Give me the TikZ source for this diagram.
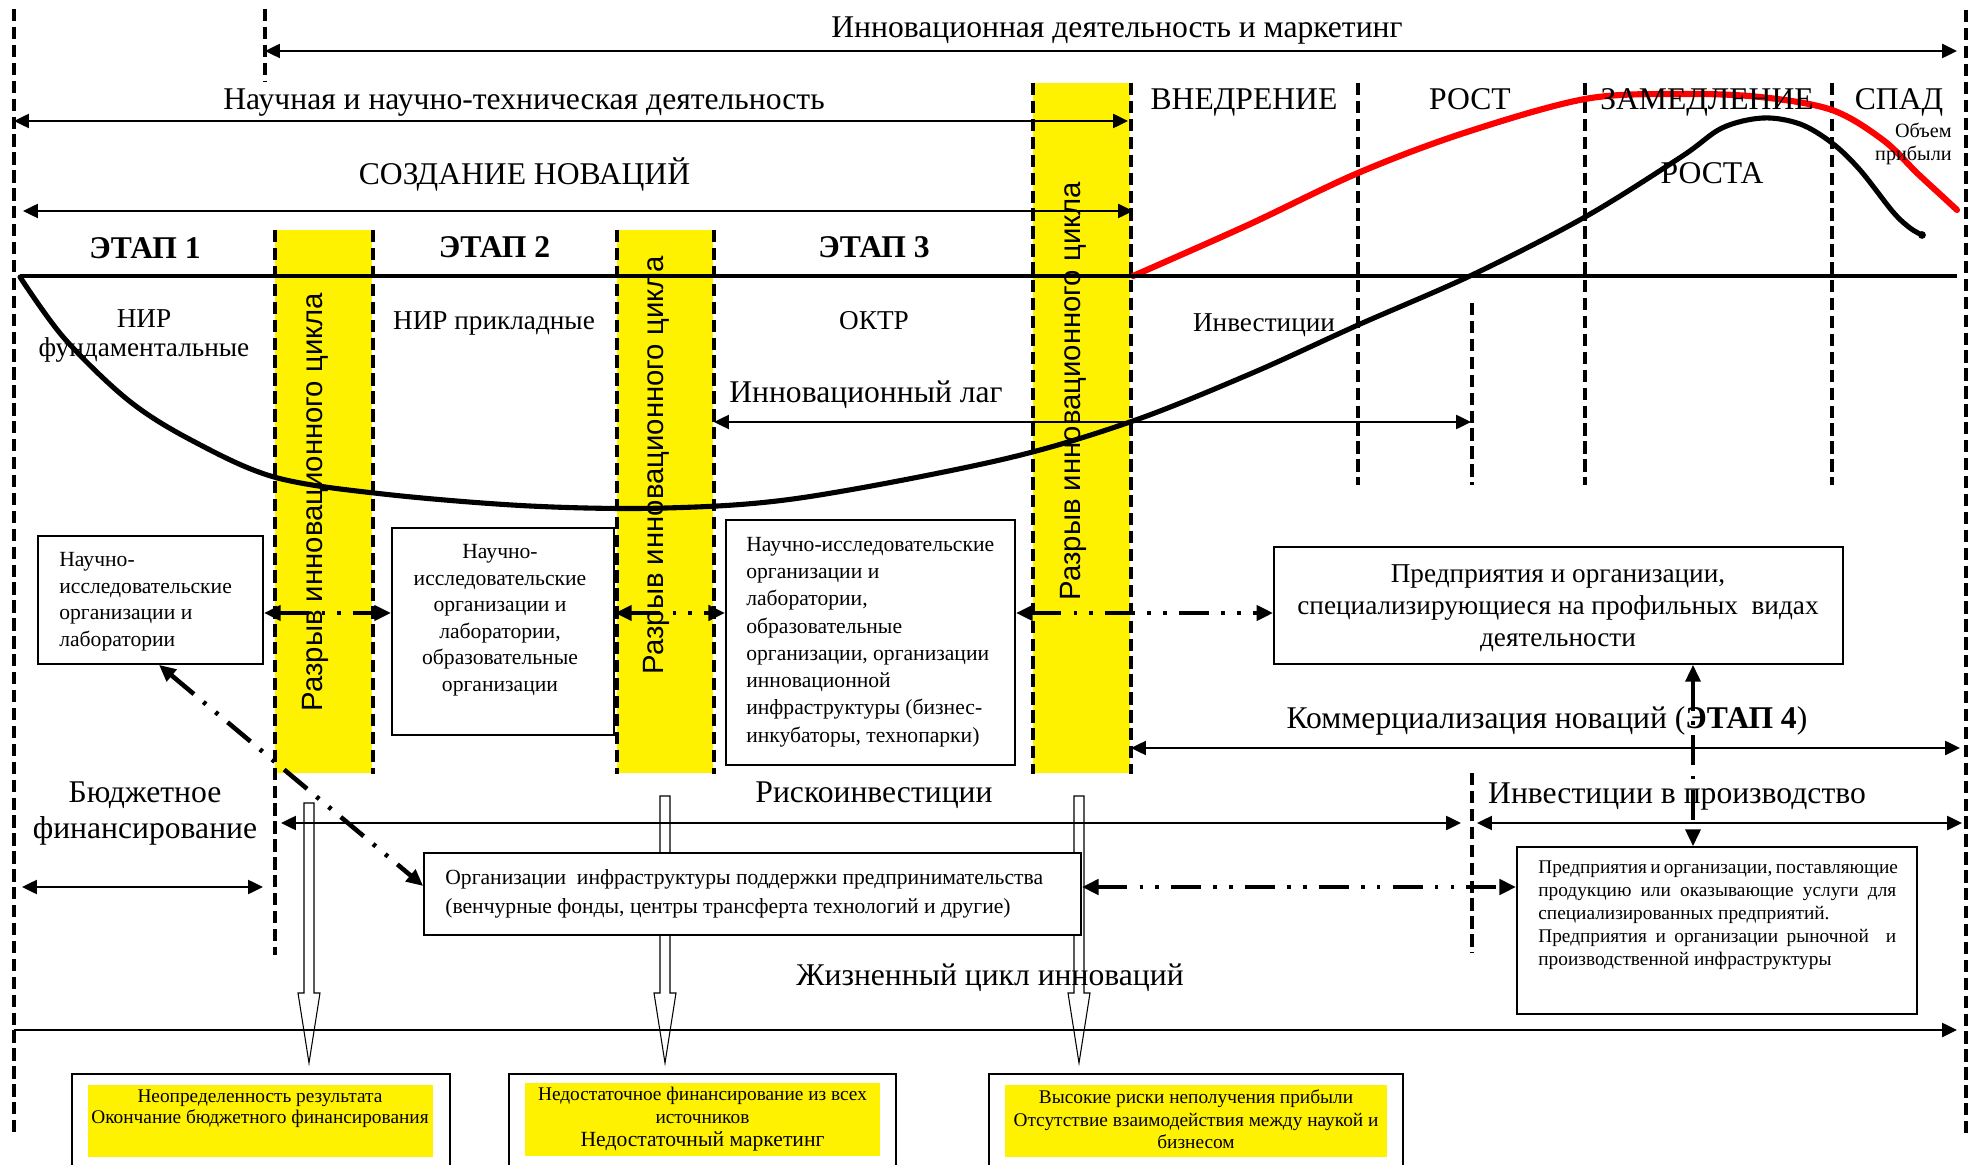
\documentclass[tikz,border=0pt]{standalone}
\usepackage{fontspec}
\setmainfont{Liberation Serif}
\newfontfamily\sansf{Liberation Sans}
\usetikzlibrary{arrows.meta}
\hyphenpenalty=10000
\exhyphenpenalty=10000
\tikzset{
  lbl/.style={font=\fontsize{18}{21}\selectfont, inner sep=0pt},
  bld/.style={font=\fontsize{18}{21}\selectfont\bfseries, inner sep=0pt},
  mid/.style={font=\fontsize{15.5}{18}\selectfont, inner sep=0pt},
  rot/.style={font=\sansf\fontsize{16.7}{20}\selectfont, inner sep=0pt, rotate=90},
  vdash/.style={line width=2.1pt, dash pattern=on 7pt off 3.2pt},
  tipA/.tip={Triangle[length=8.5pt,width=8pt]},
  tipB/.tip={Triangle[length=9.5pt,width=8.5pt]},
  arr/.style={line width=1.2pt, tipA-tipA},
  ddot/.style={line width=2.6pt, dash pattern=on 17pt off 7pt on 2pt off 7pt on 2pt off 7pt, tipB-tipB},
  ddotv/.style={line width=1.9pt, dash pattern=on 17pt off 6pt on 2pt off 6pt, tipB-tipB},
  box/.style={draw, line width=1pt, fill=white, inner sep=0pt},
  stripe/.style={fill=yellow, inner sep=0pt},
  ybox/.style={fill=yellow, inner sep=0pt},
  hollow/.style={draw, line width=0.6pt, fill=white},
  t12/.style={font=\fontsize{12.3}{15.1}\selectfont, inner sep=0pt},
  t11/.style={font=\fontsize{11}{12}\selectfont, inner sep=0pt, align=center},
}
\begin{document}
\begin{tikzpicture}[x=0.02cm,y=-0.02cm]
\useasboundingbox (0,0) rectangle (1971,1165);

% yellow stripes
\node[stripe, minimum width=1.94cm, minimum height=10.86cm, anchor=north west] (S1) at (275,230) {};
\node[stripe, minimum width=1.92cm, minimum height=10.86cm, anchor=north west] (S2) at (617,230) {};
\node[stripe, minimum width=1.94cm, minimum height=13.8cm, anchor=north west] (S3) at (1033,83) {};

% hollow arrows
\foreach \cx/\yt in {309/803,665/796,1079/796}
  \draw[hollow] (\cx-5,\yt) -- (\cx+5,\yt) -- (\cx+5,993) -- (\cx+11,993) -- (\cx,1063) -- (\cx-11,993) -- (\cx-5,993) -- cycle;

% coordinates
\coordinate (y613) at (0,613);
\coordinate (y887) at (0,887);
\coordinate (y886) at (0,886);
\coordinate (x159) at (159,0);
\coordinate (x1693) at (1693,0);
\coordinate (x955) at (0,955);

% dashed verticals
\draw[vdash] (14,9) -- (14,1138);
\draw[vdash] (1966,10) -- (1966,1138);
\draw[vdash] (265,9) -- (265,82);
\draw[vdash] (S1.north west) -- (S1.south west |- x955);
\draw[vdash] (S1.north east) -- (S1.south east);
\draw[vdash] (S2.north west) -- (S2.south west);
\draw[vdash] (S2.north east) -- (S2.south east);
\draw[vdash] (S3.north west) -- (S3.south west);
\draw[vdash] (S3.north east) -- (S3.south east);
\draw[vdash] (1358,83) -- (1358,485);
\draw[vdash] (1585,83) -- (1585,485);
\draw[vdash] (1832,83) -- (1832,485);
\draw[vdash] (1472,303) -- (1472,485);
\draw[vdash] (1472,773) -- (1472,953);

% boxes
\node[box, minimum width=4.5cm, minimum height=2.56cm] (A) at (150.5,600) {};
\node[box, minimum width=4.44cm, minimum height=4.14cm] (B) at (503,631.5) {};
\node[box, minimum width=5.78cm, minimum height=4.9cm] (C) at (870.5,642.5) {};
\node[box, minimum width=11.38cm, minimum height=2.34cm] (D) at (1558.5,605.5) {};
\node[box, minimum width=13.14cm, minimum height=1.64cm] (E) at (752.5,894) {};
\node[box, minimum width=8cm, minimum height=3.34cm] (F) at (1717,930.5) {};
\node[box, minimum width=7.56cm, minimum height=2.3cm, anchor=north west] (G1) at (71,1073) {};
\node[box, minimum width=7.74cm, minimum height=2.3cm, anchor=north west] (G2) at (508,1073) {};
\node[box, minimum width=8.28cm, minimum height=2.3cm, anchor=north west] (G3) at (988,1073) {};
\node[ybox, minimum width=6.9cm, minimum height=1.44cm, anchor=north west] (G1y) at (88,1085) {};
\node[ybox, minimum width=7.1cm, minimum height=1.46cm, anchor=north west] (G2y) at (525,1083) {};
\node[ybox, minimum width=7.64cm, minimum height=1.44cm, anchor=north west] (G3y) at (1005,1085) {};

% curves
\draw[line width=2.9pt, line cap=round] plot[smooth, tension=0.55] coordinates {(20,277) (64,338) (128,400) (191,440) (274,477) (383,494) (530,506) (666,508) (800,498) (1000,460) (1130,422) (1250,374) (1358,325) (1472,275) (1585,217) (1681,157) (1722,128) (1763,118) (1800,124) (1832,143) (1860,170) (1893,212) (1910,228) (1922,235)};
\fill (1922,235) circle (2.2pt);
\draw[red, line width=3.5pt, line cap=round] plot[smooth, tension=0.55] coordinates {(1133,276) (1248,225) (1358,173) (1464,133) (1585,99) (1681,94) (1760,97) (1832,110) (1883,140) (1917,173) (1943,197) (1957,210)};

% main axis
\coordinate (ax1) at (20,276);
\coordinate (ax2) at (1957,276);
\draw[line width=2.8pt] (ax1) -- (ax2);

% thin arrows
\coordinate (iL) at (265,51);  \coordinate (iR) at (1957,51);
\coordinate (nL) at (14,121);  \coordinate (nR) at (1128,121);
\coordinate (sL) at (23,211);  \coordinate (sR) at (1133,211);
\coordinate (lL) at (714,422); \coordinate (lR) at (1471,422);
\coordinate (kL) at (1131,748); \coordinate (kR) at (1960,748);
\coordinate (bL) at (22,887);  \coordinate (bR) at (263,887);
\coordinate (rL) at (281,823); \coordinate (rR) at (1461,823);
\coordinate (pL) at (1477,823); \coordinate (pR) at (1962,823);
\coordinate (zL) at (14,1030); \coordinate (zR) at (1957,1030);
\draw[arr] (iL) -- (iR);
\draw[arr] (nL) -- (nR);
\draw[arr] (sL) -- (sR);
\draw[arr] (lL) -- (lR);
\draw[arr] (kL) -- (kR);
\draw[arr] (bL) -- (bR);
\draw[arr] (rL) -- (rR);
\draw[arr] (pL) -- (pR);
\draw[line width=1.2pt, -tipA] (zL) -- (zR);

% dash-dot connectors
\draw[ddot] (A.east |- y613) -- (B.west |- y613);
\draw[ddot] (B.east |- y613) -- (C.west |- y613);
\draw[ddot] (C.east |- y613) -- (D.west |- y613);
\draw[ddot] (E.east |- y887) -- (F.west |- y887);
\draw[ddot] (A.south -| x159) -- (E.west |- y886);
\draw[ddotv] (D.south -| x1693) -- (F.north -| x1693);

% rotated texts
\node[rot, anchor=base] (r1) at (322,502) {Разрыв инновационного цикла};
\node[rot, anchor=base] (r2) at (663,465) {Разрыв инновационного цикла};
\node[rot, anchor=base] (r3) at (1080,391) {Разрыв инновационного цикла};

% labels
\node[lbl, anchor=base] (t1) at (1117,38) {Инновационная деятельность и маркетинг};
\node[lbl, anchor=base] (t2) at (524,110) {Научная и научно-техническая деятельность};
\node[lbl, anchor=base] (t3) at (524.5,185) {СОЗДАНИЕ НОВАЦИЙ};
\node[bld, anchor=base] (e1) at (145,259) {ЭТАП 1};
\node[bld, anchor=base] (e2) at (494.5,258) {ЭТАП 2};
\node[bld, anchor=base] (e3) at (874,258) {ЭТАП 3};
\node[lbl, anchor=base] (p1) at (1244,110) {ВНЕДРЕНИЕ};
\node[lbl, anchor=base] (p2) at (1470,110) {РОСТ};
\node[lbl, anchor=base] (p3) at (1707,110) {ЗАМЕДЛЕНИЕ};
\node[lbl, anchor=base] (p4) at (1899,110) {СПАД};
\node[lbl, anchor=base] (p5) at (1712,184) {РОСТА};
\node[font=\fontsize{11.5}{13}\selectfont, inner sep=0pt, anchor=base east] (o1) at (1952,138) {Объем};
\node[font=\fontsize{11.5}{13}\selectfont, inner sep=0pt, anchor=base east] (o2) at (1952,161) {прибыли};
\node[mid, anchor=base] (n1) at (144,328) {НИР};
\node[mid, anchor=base] (n2) at (144,357) {фундаментальные};
\node[mid, anchor=base] (n3) at (494,330) {НИР прикладные};
\node[mid, anchor=base] (n4) at (874,330) {ОКТР};
\node[mid, anchor=base] (n5) at (1264,332) {Инвестиции};
\node[lbl, anchor=base] (lag) at (866,403) {Инновационный лаг};
\node[lbl, anchor=base] (b1) at (145,802) {Бюджетное};
\node[lbl, anchor=base] (b2) at (145,838) {финансирование};
\node[lbl, anchor=base] (ri) at (874,802) {Рискоинвестиции};
\node[lbl, anchor=base] (ip) at (1677,803) {Инвестиции в производство};
\node[lbl, anchor=base] (zc) at (990,985) {Жизненный цикл инноваций};
\node[lbl, anchor=base] (km) at (1547,728) {Коммерциализация новаций (\textbf{ЭТАП 4})};

% box texts
\node[t12, align=left, anchor=north west] (At) at (59,552) {Научно-\\исследовательские\\организации и\\лаборатории};
\node[t12, align=center, anchor=north] (Bt) at (500,544) {Научно-\\исследовательские\\организации и\\лаборатории,\\образовательные\\организации};
\node[font=\fontsize{12.3}{15.5}\selectfont, inner sep=0pt, align=left, anchor=north west] (Ct) at (746,537) {Научно-исследовательские\\организации и\\лаборатории,\\образовательные\\организации, организации\\инновационной\\инфраструктуры (бизнес-\\инкубаторы, технопарки)};
\node[font=\fontsize{15.5}{18.4}\selectfont, inner sep=0pt, align=center, anchor=north] (Dt) at (1558,564) {Предприятия и организации,\\специализирующиеся на профильных\ \ видах\\деятельности};
\node[font=\fontsize{12.3}{16.4}\selectfont, inner sep=0pt, align=left, anchor=north west] (Et) at (445,869) {Организации\ \ инфраструктуры поддержки предпринимательства\\(венчурные фонды, центры трансферта технологий и другие)};
\node[font=\fontsize{11}{13.2}\selectfont, inner sep=0pt, align=left, anchor=north west] (Ft) at (1538,860) {\makebox[7.16cm][s]{Предприятия и организации, поставляющие}\\\makebox[7.16cm][s]{продукцию или оказывающие услуги для}\\специализированных предприятий.\\\makebox[7.16cm][s]{Предприятия и организации рыночной\ \ и}\\производственной инфраструктуры};
\node[t11, anchor=north] (G1t) at (260,1089) {Неопределенность результата\\Окончание бюджетного финансирования};
\node[font=\fontsize{11}{13}\selectfont, inner sep=0pt, align=center, anchor=north] (G2t) at (702.5,1087) {Недостаточное финансирование из всех\\источников\\{\fontsize{12.3}{14}\selectfont Недостаточный маркетинг}};
\node[font=\fontsize{11}{13}\selectfont, inner sep=0pt, align=center, anchor=north] (G3t) at (1196,1089) {Высокие риски неполучения прибыли\\Отсутствие взаимодействия между наукой и\\бизнесом};
\end{tikzpicture}
\end{document}
